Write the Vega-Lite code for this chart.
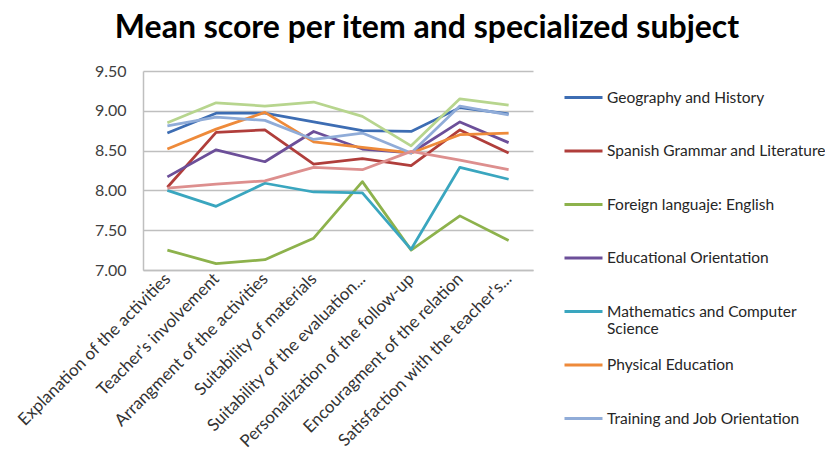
{
  "$schema": "https://vega.github.io/schema/vega-lite/v6.json",
  "autosize": "none",
  "width": 390,
  "height": 199,
  "padding": {"left": 143, "top": 71, "right": 292, "bottom": 196},
  "background": "white",
  "title": {
    "text": "Mean score per item and specialized subject",
    "font": "Lato",
    "fontSize": 32,
    "fontWeight": "bold",
    "color": "#000000",
    "anchor": "middle",
    "dx": 89,
    "offset": 18
  },
  "data": {
    "values": [
      {"item": "Explanation of the activities", "subject": "Geography and History", "score": 8.72},
      {"item": "Teacher's involvement", "subject": "Geography and History", "score": 8.97},
      {"item": "Arrangment of the activities", "subject": "Geography and History", "score": 8.97},
      {"item": "Suitability of materials", "subject": "Geography and History", "score": 8.86},
      {"item": "Suitability of the evaluation...", "subject": "Geography and History", "score": 8.75},
      {"item": "Personalization of the follow-up", "subject": "Geography and History", "score": 8.74},
      {"item": "Encouragment of the relation", "subject": "Geography and History", "score": 9.04},
      {"item": "Satisfaction with the teacher's...", "subject": "Geography and History", "score": 8.96},

      {"item": "Explanation of the activities", "subject": "Spanish Grammar and Literature", "score": 8.04},
      {"item": "Teacher's involvement", "subject": "Spanish Grammar and Literature", "score": 8.73},
      {"item": "Arrangment of the activities", "subject": "Spanish Grammar and Literature", "score": 8.76},
      {"item": "Suitability of materials", "subject": "Spanish Grammar and Literature", "score": 8.33},
      {"item": "Suitability of the evaluation...", "subject": "Spanish Grammar and Literature", "score": 8.40},
      {"item": "Personalization of the follow-up", "subject": "Spanish Grammar and Literature", "score": 8.31},
      {"item": "Encouragment of the relation", "subject": "Spanish Grammar and Literature", "score": 8.76},
      {"item": "Satisfaction with the teacher's...", "subject": "Spanish Grammar and Literature", "score": 8.47},

      {"item": "Explanation of the activities", "subject": "Foreign languaje: English", "score": 7.25},
      {"item": "Teacher's involvement", "subject": "Foreign languaje: English", "score": 7.08},
      {"item": "Arrangment of the activities", "subject": "Foreign languaje: English", "score": 7.13},
      {"item": "Suitability of materials", "subject": "Foreign languaje: English", "score": 7.40},
      {"item": "Suitability of the evaluation...", "subject": "Foreign languaje: English", "score": 8.11},
      {"item": "Personalization of the follow-up", "subject": "Foreign languaje: English", "score": 7.25},
      {"item": "Encouragment of the relation", "subject": "Foreign languaje: English", "score": 7.68},
      {"item": "Satisfaction with the teacher's...", "subject": "Foreign languaje: English", "score": 7.37},

      {"item": "Explanation of the activities", "subject": "Educational Orientation", "score": 8.17},
      {"item": "Teacher's involvement", "subject": "Educational Orientation", "score": 8.51},
      {"item": "Arrangment of the activities", "subject": "Educational Orientation", "score": 8.36},
      {"item": "Suitability of materials", "subject": "Educational Orientation", "score": 8.74},
      {"item": "Suitability of the evaluation...", "subject": "Educational Orientation", "score": 8.52},
      {"item": "Personalization of the follow-up", "subject": "Educational Orientation", "score": 8.47},
      {"item": "Encouragment of the relation", "subject": "Educational Orientation", "score": 8.86},
      {"item": "Satisfaction with the teacher's...", "subject": "Educational Orientation", "score": 8.60},

      {"item": "Explanation of the activities", "subject": "Mathematics and Computer Science", "score": 8.00},
      {"item": "Teacher's involvement", "subject": "Mathematics and Computer Science", "score": 7.80},
      {"item": "Arrangment of the activities", "subject": "Mathematics and Computer Science", "score": 8.09},
      {"item": "Suitability of materials", "subject": "Mathematics and Computer Science", "score": 7.98},
      {"item": "Suitability of the evaluation...", "subject": "Mathematics and Computer Science", "score": 7.97},
      {"item": "Personalization of the follow-up", "subject": "Mathematics and Computer Science", "score": 7.26},
      {"item": "Encouragment of the relation", "subject": "Mathematics and Computer Science", "score": 8.29},
      {"item": "Satisfaction with the teacher's...", "subject": "Mathematics and Computer Science", "score": 8.14},

      {"item": "Explanation of the activities", "subject": "Physical Education", "score": 8.52},
      {"item": "Teacher's involvement", "subject": "Physical Education", "score": 8.77},
      {"item": "Arrangment of the activities", "subject": "Physical Education", "score": 8.98},
      {"item": "Suitability of materials", "subject": "Physical Education", "score": 8.61},
      {"item": "Suitability of the evaluation...", "subject": "Physical Education", "score": 8.54},
      {"item": "Personalization of the follow-up", "subject": "Physical Education", "score": 8.47},
      {"item": "Encouragment of the relation", "subject": "Physical Education", "score": 8.70},
      {"item": "Satisfaction with the teacher's...", "subject": "Physical Education", "score": 8.72},

      {"item": "Explanation of the activities", "subject": "Training and Job Orientation", "score": 8.81},
      {"item": "Teacher's involvement", "subject": "Training and Job Orientation", "score": 8.92},
      {"item": "Arrangment of the activities", "subject": "Training and Job Orientation", "score": 8.88},
      {"item": "Suitability of materials", "subject": "Training and Job Orientation", "score": 8.64},
      {"item": "Suitability of the evaluation...", "subject": "Training and Job Orientation", "score": 8.72},
      {"item": "Personalization of the follow-up", "subject": "Training and Job Orientation", "score": 8.47},
      {"item": "Encouragment of the relation", "subject": "Training and Job Orientation", "score": 9.06},
      {"item": "Satisfaction with the teacher's...", "subject": "Training and Job Orientation", "score": 8.95},

      {"item": "Explanation of the activities", "subject": "Series 8", "score": 8.03},
      {"item": "Teacher's involvement", "subject": "Series 8", "score": 8.08},
      {"item": "Arrangment of the activities", "subject": "Series 8", "score": 8.12},
      {"item": "Suitability of materials", "subject": "Series 8", "score": 8.29},
      {"item": "Suitability of the evaluation...", "subject": "Series 8", "score": 8.26},
      {"item": "Personalization of the follow-up", "subject": "Series 8", "score": 8.49},
      {"item": "Encouragment of the relation", "subject": "Series 8", "score": 8.38},
      {"item": "Satisfaction with the teacher's...", "subject": "Series 8", "score": 8.26},

      {"item": "Explanation of the activities", "subject": "Series 9", "score": 8.85},
      {"item": "Teacher's involvement", "subject": "Series 9", "score": 9.10},
      {"item": "Arrangment of the activities", "subject": "Series 9", "score": 9.06},
      {"item": "Suitability of materials", "subject": "Series 9", "score": 9.11},
      {"item": "Suitability of the evaluation...", "subject": "Series 9", "score": 8.93},
      {"item": "Personalization of the follow-up", "subject": "Series 9", "score": 8.56},
      {"item": "Encouragment of the relation", "subject": "Series 9", "score": 9.15},
      {"item": "Satisfaction with the teacher's...", "subject": "Series 9", "score": 9.07}
    ]
  },
  "mark": {"type": "line", "strokeWidth": 2.75, "strokeJoin": "round"},
  "encoding": {
    "x": {
      "field": "item",
      "type": "nominal",
      "sort": null,
      "scale": {"type": "point", "padding": 0.5},
      "axis": {
        "title": null,
        "labelAngle": -45,
        "labelAlign": "right",
        "labelBaseline": "middle",
        "labelFont": "Lato",
        "labelFontSize": 17,
        "labelColor": "#333333",
        "labelPadding": 6,
        "labelLimit": 400,
        "ticks": false,
        "grid": false,
        "domainColor": "#bfbfbf",
        "domainWidth": 1.5
      }
    },
    "y": {
      "field": "score",
      "type": "quantitative",
      "scale": {"domain": [7, 9.5], "zero": false, "nice": false},
      "axis": {
        "title": null,
        "values": [7, 7.5, 8, 8.5, 9, 9.5],
        "format": ".2f",
        "labelFont": "Lato",
        "labelFontSize": 16,
        "labelColor": "#404040",
        "labelPadding": 17,
        "ticks": false,
        "gridColor": "#bfbfbf",
        "gridWidth": 1.5,
        "domainColor": "#bfbfbf",
        "domainWidth": 1.5
      }
    },
    "color": {
      "field": "subject",
      "type": "nominal",
      "sort": null,
      "scale": {
        "domain": ["Geography and History", "Spanish Grammar and Literature", "Foreign languaje: English", "Educational Orientation", "Mathematics and Computer Science", "Physical Education", "Training and Job Orientation", "Series 8", "Series 9"],
        "range": ["#3d6db3", "#b03e3b", "#8db24c", "#6c4f99", "#3aa6bf", "#ee8a3a", "#90acd8", "#dd8f8e", "#b7d58e"]
      },
      "legend": {
        "title": null,
        "orient": "none",
        "legendX": 420,
        "legendY": 6,
        "values": ["Geography and History", "Spanish Grammar and Literature", "Foreign languaje: English", "Educational Orientation", "Mathematics and Computer Science", "Physical Education", "Training and Job Orientation"],
        "symbolType": "stroke",
        "symbolSize": 1444,
        "symbolStrokeWidth": 3,
        "labelFont": "Lato",
        "labelFontSize": 15.5,
        "labelColor": "#262626",
        "labelOffset": 3,
        "labelLimit": 400,
        "labelExpr": "datum.label == 'Mathematics and Computer Science' ? ['Mathematics and Computer', 'Science'] : datum.label",
        "gridAlign": "all",
        "rowPadding": 6.5
      }
    }
  },
  "config": {"view": {"stroke": null}}
}
